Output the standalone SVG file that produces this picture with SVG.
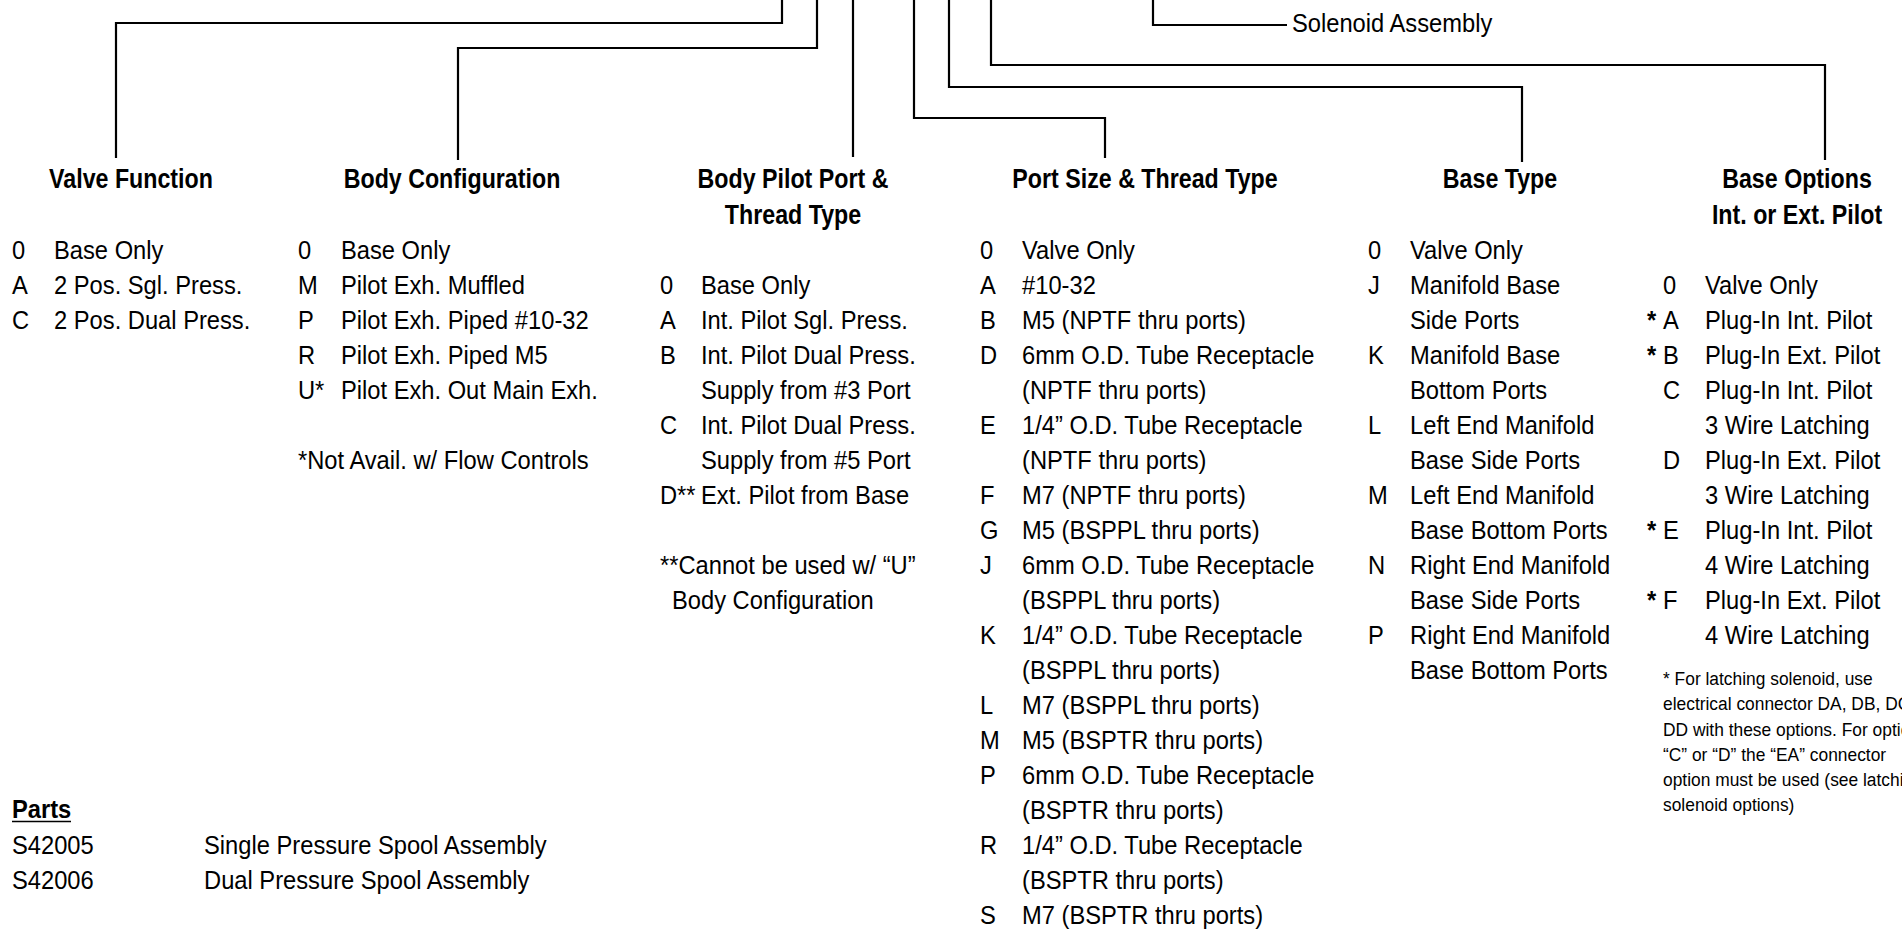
<svg xmlns="http://www.w3.org/2000/svg" width="1902" height="933" viewBox="0 0 1902 933">
<style>
text { font-family: "Liberation Sans", Arial, sans-serif; fill: #000; }
.t { font-size: 25.5px; }
.h { font-size: 27px; font-weight: bold; text-anchor: middle; }
.b { font-weight: bold; }
.n { font-size: 18.7px; }
.c { fill: none; stroke: #000; stroke-width: 2.2; stroke-linejoin: miter; }
</style>
<rect width="1902" height="933" fill="#fff"/>
<g id="connectors">
  <path class="c" d="M782,0 V23 H116 V158"/>
  <path class="c" d="M817,0 V48 H458 V160"/>
  <path class="c" d="M853,0 V157"/>
  <path class="c" d="M914,0 V118 H1105 V158"/>
  <path class="c" d="M949,0 V87 H1522 V162"/>
  <path class="c" d="M991,0 V65 H1825 V160"/>
  <path class="c" d="M1153,0 V25 H1287"/>
</g>
<g id="solenoid-assembly">
  <text class="t" transform="translate(1292 32) scale(0.93 1)">Solenoid Assembly</text>
</g>
<g id="valve-function">
  <text class="h" transform="translate(131 188) scale(0.86 1)">Valve Function</text>
  <g transform="translate(12 0) scale(0.93 1)">
    <text class="t" y="259">0</text><text class="t" x="45.2" y="259">Base Only</text>
    <text class="t" y="294">A</text><text class="t" x="45.2" y="294">2 Pos. Sgl. Press.</text>
    <text class="t" y="329">C</text><text class="t" x="45.2" y="329">2 Pos. Dual Press.</text>
  </g>
</g>
<g id="body-configuration">
  <text class="h" transform="translate(452 188) scale(0.86 1)">Body Configuration</text>
  <g transform="translate(298 0) scale(0.93 1)">
    <text class="t" y="259">0</text><text class="t" x="46.2" y="259">Base Only</text>
    <text class="t" y="294">M</text><text class="t" x="46.2" y="294">Pilot Exh. Muffled</text>
    <text class="t" y="329">P</text><text class="t" x="46.2" y="329">Pilot Exh. Piped #10-32</text>
    <text class="t" y="364">R</text><text class="t" x="46.2" y="364">Pilot Exh. Piped M5</text>
    <text class="t" y="399">U*</text><text class="t" x="46.2" y="399">Pilot Exh. Out Main Exh.</text>
    <text class="t" y="469">*Not Avail. w/ Flow Controls</text>
  </g>
</g>
<g id="body-pilot-port">
  <text class="h" transform="translate(793 188) scale(0.86 1)">Body Pilot Port &amp;</text>
  <text class="h" transform="translate(793 224) scale(0.86 1)">Thread Type</text>
  <g transform="translate(660 0) scale(0.93 1)">
    <text class="t" y="294">0</text><text class="t" x="44.1" y="294">Base Only</text>
    <text class="t" y="329">A</text><text class="t" x="44.1" y="329">Int. Pilot Sgl. Press.</text>
    <text class="t" y="364">B</text><text class="t" x="44.1" y="364">Int. Pilot Dual Press.</text>
    <text class="t" x="44.1" y="399">Supply from #3 Port</text>
    <text class="t" y="434">C</text><text class="t" x="44.1" y="434">Int. Pilot Dual Press.</text>
    <text class="t" x="44.1" y="469">Supply from #5 Port</text>
    <text class="t" y="504">D**</text><text class="t" x="44.1" y="504">Ext. Pilot from Base</text>
    <text class="t" y="574">**Cannot be used w/ “U”</text>
    <text class="t" x="12.9" y="609">Body Configuration</text>
  </g>
</g>
<g id="port-size-thread-type">
  <text class="h" transform="translate(1145 188) scale(0.86 1)">Port Size &amp; Thread Type</text>
  <g transform="translate(980 0) scale(0.93 1)">
    <text class="t" y="259">0</text><text class="t" x="45.2" y="259">Valve Only</text>
    <text class="t" y="294">A</text><text class="t" x="45.2" y="294">#10-32</text>
    <text class="t" y="329">B</text><text class="t" x="45.2" y="329">M5 (NPTF thru ports)</text>
    <text class="t" y="364">D</text><text class="t" x="45.2" y="364">6mm O.D. Tube Receptacle</text>
    <text class="t" x="45.2" y="399">(NPTF thru ports)</text>
    <text class="t" y="434">E</text><text class="t" x="45.2" y="434">1/4” O.D. Tube Receptacle</text>
    <text class="t" x="45.2" y="469">(NPTF thru ports)</text>
    <text class="t" y="504">F</text><text class="t" x="45.2" y="504">M7 (NPTF thru ports)</text>
    <text class="t" y="539">G</text><text class="t" x="45.2" y="539">M5 (BSPPL thru ports)</text>
    <text class="t" y="574">J</text><text class="t" x="45.2" y="574">6mm O.D. Tube Receptacle</text>
    <text class="t" x="45.2" y="609">(BSPPL thru ports)</text>
    <text class="t" y="644">K</text><text class="t" x="45.2" y="644">1/4” O.D. Tube Receptacle</text>
    <text class="t" x="45.2" y="679">(BSPPL thru ports)</text>
    <text class="t" y="714">L</text><text class="t" x="45.2" y="714">M7 (BSPPL thru ports)</text>
    <text class="t" y="749">M</text><text class="t" x="45.2" y="749">M5 (BSPTR thru ports)</text>
    <text class="t" y="784">P</text><text class="t" x="45.2" y="784">6mm O.D. Tube Receptacle</text>
    <text class="t" x="45.2" y="819">(BSPTR thru ports)</text>
    <text class="t" y="854">R</text><text class="t" x="45.2" y="854">1/4” O.D. Tube Receptacle</text>
    <text class="t" x="45.2" y="889">(BSPTR thru ports)</text>
    <text class="t" y="924">S</text><text class="t" x="45.2" y="924">M7 (BSPTR thru ports)</text>
  </g>
</g>
<g id="base-type">
  <text class="h" transform="translate(1500 188) scale(0.86 1)">Base Type</text>
  <g transform="translate(1368 0) scale(0.93 1)">
    <text class="t" y="259">0</text><text class="t" x="45.2" y="259">Valve Only</text>
    <text class="t" y="294">J</text><text class="t" x="45.2" y="294">Manifold Base</text>
    <text class="t" x="45.2" y="329">Side Ports</text>
    <text class="t" y="364">K</text><text class="t" x="45.2" y="364">Manifold Base</text>
    <text class="t" x="45.2" y="399">Bottom Ports</text>
    <text class="t" y="434">L</text><text class="t" x="45.2" y="434">Left End Manifold</text>
    <text class="t" x="45.2" y="469">Base Side Ports</text>
    <text class="t" y="504">M</text><text class="t" x="45.2" y="504">Left End Manifold</text>
    <text class="t" x="45.2" y="539">Base Bottom Ports</text>
    <text class="t" y="574">N</text><text class="t" x="45.2" y="574">Right End Manifold</text>
    <text class="t" x="45.2" y="609">Base Side Ports</text>
    <text class="t" y="644">P</text><text class="t" x="45.2" y="644">Right End Manifold</text>
    <text class="t" x="45.2" y="679">Base Bottom Ports</text>
  </g>
</g>
<g id="base-options">
  <text class="h" transform="translate(1797 188) scale(0.86 1)">Base Options</text>
  <text class="h" transform="translate(1797 224) scale(0.86 1)">Int. or Ext. Pilot</text>
  <g transform="translate(1663 0) scale(0.93 1)">
    <text class="t" y="294">0</text><text class="t" x="45.2" y="294">Valve Only</text>
    <text class="t b" x="-17.2" y="329">*</text><text class="t" y="329">A</text><text class="t" x="45.2" y="329">Plug-In Int. Pilot</text>
    <text class="t b" x="-17.2" y="364">*</text><text class="t" y="364">B</text><text class="t" x="45.2" y="364">Plug-In Ext. Pilot</text>
    <text class="t" y="399">C</text><text class="t" x="45.2" y="399">Plug-In Int. Pilot</text>
    <text class="t" x="45.2" y="434">3 Wire Latching</text>
    <text class="t" y="469">D</text><text class="t" x="45.2" y="469">Plug-In Ext. Pilot</text>
    <text class="t" x="45.2" y="504">3 Wire Latching</text>
    <text class="t b" x="-17.2" y="539">*</text><text class="t" y="539">E</text><text class="t" x="45.2" y="539">Plug-In Int. Pilot</text>
    <text class="t" x="45.2" y="574">4 Wire Latching</text>
    <text class="t b" x="-17.2" y="609">*</text><text class="t" y="609">F</text><text class="t" x="45.2" y="609">Plug-In Ext. Pilot</text>
    <text class="t" x="45.2" y="644">4 Wire Latching</text>
    <text class="n" y="685">* For latching solenoid, use</text>
    <text class="n" y="710">electrical connector DA, DB, DC</text>
    <text class="n" y="736">DD with these options. For options</text>
    <text class="n" y="761">“C” or “D” the “EA” connector</text>
    <text class="n" y="786">option must be used (see latching</text>
    <text class="n" y="811">solenoid options)</text>
  </g>
</g>
<g id="parts">
  <g transform="translate(12 0) scale(0.93 1)">
    <text class="t b" y="818">Parts</text>
    <text class="t" y="854">S42005</text><text class="t" x="206.5" y="854">Single Pressure Spool Assembly</text>
    <text class="t" y="889">S42006</text><text class="t" x="206.5" y="889">Dual Pressure Spool Assembly</text>
  </g>
  <line x1="12" y1="821.5" x2="71" y2="821.5" stroke="#000" stroke-width="1.6"/>
</g>
</svg>
